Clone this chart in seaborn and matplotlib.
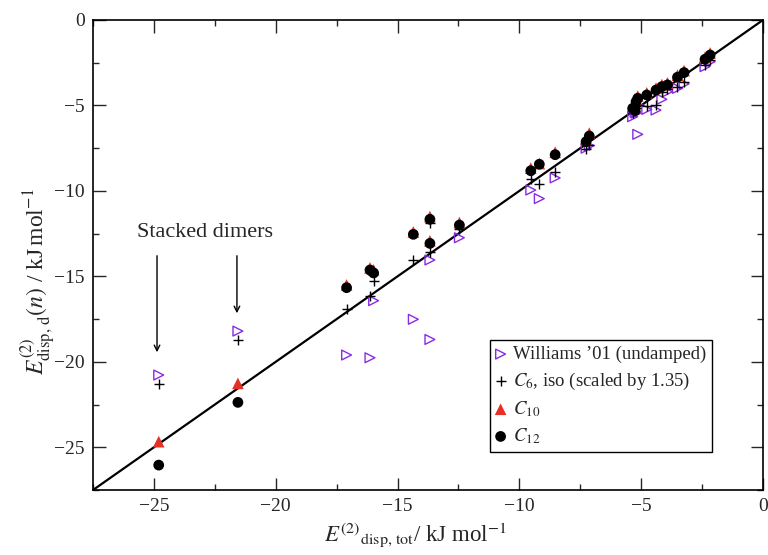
import matplotlib
matplotlib.use("Agg")
import matplotlib.pyplot as plt
import seaborn as sns
import pandas as pd
from matplotlib.ticker import MultipleLocator

# Total dispersion energy (kJ/mol) for each dimer
e_tot = [-24.8, -21.55, -17.09, -16.13, -15.98, -14.35, -13.67, -13.67, -12.46,
         -9.53, -9.18, -8.53, -7.26, -7.13,
         -5.35, -5.25, -5.21, -5.14, -4.77, -4.39, -4.15, -3.92, -3.51, -3.24, -2.38, -2.17]

# Damped dispersion estimates for each model
williams = [-20.77, -18.2, -19.6, -19.76, -16.42, -17.51, -18.69, -14.04, -12.74,
            -9.95, -10.45, -9.24, -7.5, -7.35,
            -5.66, -5.4, -5.45, -6.69, -5.23, -5.27, -4.64, -4.2, -4.0, -3.74, -2.73, -2.44]
c6_iso = [-21.3, -18.72, -16.9, -16.15, -15.25, -14.04, -11.9, -13.56, -12.2,
          -9.3, -9.62, -8.91, -7.57, -7.3,
          -5.46, -5.3, -5.15, -5.0, -5.03, -4.97, -4.19, -4.05, -3.9, -3.6, -2.63, -2.34]
c10 = [-24.67, -21.26, -15.5, -14.5, -14.62, -12.4, -11.5, -12.92, -11.85,
       -8.67, -8.4, -7.74, -6.98, -6.62,
       -5.03, -5.15, -4.65, -4.45, -4.26, -3.98, -3.78, -3.68, -3.23, -2.96, -2.18, -1.93]
c12 = [-26.04, -22.37, -15.66, -14.63, -14.8, -12.54, -11.66, -13.07, -12.0,
       -8.82, -8.44, -7.88, -7.12, -6.79,
       -5.17, -5.3, -4.78, -4.58, -4.39, -4.1, -3.9, -3.8, -3.35, -3.08, -2.3, -2.05]

labels = ["Williams \u201901 (undamped)", "$C_6$, iso (scaled by 1.35)", "$C_{10}$", "$C_{12}$"]
tick_vals = [-25, -20, -15, -10, -5, 0]

sns.set_style("ticks")
plt.rcParams["font.family"] = ["Liberation Serif", "DejaVu Serif"]
plt.rcParams["mathtext.fontset"] = "stix"

fig = plt.figure(figsize=(7.68, 5.55), dpi=100)
ax = fig.add_axes([0.121, 0.117, 0.8725, 0.847])

df = pd.DataFrame({"tot": e_tot, "w": williams, "c6": c6_iso, "c10": c10, "c12": c12})

# Reference line E_d = E_tot
lim = [-27.5, 0]
ax.plot(lim, lim, color="black", lw=1.6, zorder=1)

sns.scatterplot(data=df, x="tot", y="w", ax=ax, marker=">", s=50,
                facecolor="none", edgecolor="#8a2be2", linewidth=1.0,
                label=labels[0], zorder=3)
sns.scatterplot(data=df, x="tot", y="c6", ax=ax, marker="+", s=50,
                color="black", linewidth=1.0, label=labels[1], zorder=3)
sns.scatterplot(data=df, x="tot", y="c10", ax=ax, marker="^", s=70,
                color="#e53027", edgecolor="none", label=labels[2], zorder=4)
sns.scatterplot(data=df, x="tot", y="c12", ax=ax, marker="o", s=60,
                color="black", edgecolor="none", label=labels[3], zorder=5)

ax.set_xlim(lim)
ax.set_ylim(lim)
ax.xaxis.set_minor_locator(MultipleLocator(2.5))
ax.yaxis.set_minor_locator(MultipleLocator(2.5))
ax.set_xticks(tick_vals)
ax.set_yticks(tick_vals)
ax.set_xticklabels([f"\u2212{abs(v)}" if v else "0" for v in tick_vals])
ax.set_yticklabels([f"\u2212{abs(v)}" if v else "0" for v in tick_vals])
ax.tick_params(which="major", direction="in", length=9, width=1.0,
               top=True, right=True, labelsize=14, pad=6)
ax.tick_params(which="minor", direction="in", length=4.5, width=1.0,
               top=True, right=True)
for sp in ax.spines.values():
    sp.set_linewidth(1.2)
    sp.set_color("black")

ax.set_xlabel(r"$E^{(2)}{}_{\mathrm{disp,\,tot}}$/ kJ mol$^{-1}$", fontsize=16.5)
ax.set_ylabel(r"$E^{(2)}_{\mathrm{disp,\,d}}(n)$ / kJ$\,$mol$^{-1}$", fontsize=17)
ax.xaxis.set_label_coords(0.481, -0.064)
ax.yaxis.set_label_coords(-0.054, 0.443)

# Stacked dimer annotation
ax.text(-22.9, -12.46, "Stacked dimers", fontsize=16, ha="center", va="center")
ax.annotate("", xy=(-24.87, -19.6), xytext=(-24.87, -13.63),
            arrowprops=dict(arrowstyle="->", color="black", lw=1.0))
ax.annotate("", xy=(-21.59, -17.32), xytext=(-21.59, -13.63),
            arrowprops=dict(arrowstyle="->", color="black", lw=1.0))

leg = ax.legend(loc="upper left", bbox_to_anchor=(0.593, 0.319), borderaxespad=0,
                fontsize=13.5, frameon=True, fancybox=False, handlelength=0.5,
                handletextpad=0.4, labelspacing=0.4, borderpad=0.3)
leg.get_frame().set_edgecolor("black")
leg.get_frame().set_linewidth(1.0)
leg.get_frame().set_alpha(1)

fig.savefig("out.png", dpi=100)
